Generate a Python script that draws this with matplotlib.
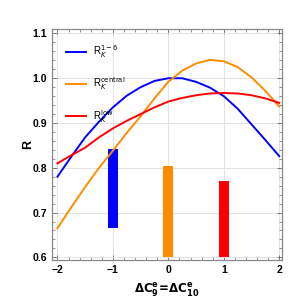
import numpy as np
import matplotlib.pyplot as plt
from matplotlib.ticker import MultipleLocator

plt.rcParams['font.family'] = ['Liberation Sans', 'DejaVu Sans']

# curves R(x)
x_vals = [-2, -1.75, -1.5, -1.25, -1, -0.75, -0.5, -0.25, 0,
          0.25, 0.5, 0.75, 1, 1.25, 1.5, 1.75, 2]
r_16 = [0.780, 0.825, 0.868, 0.903, 0.935, 0.961, 0.980, 0.994, 1.000,
        1.000, 0.992, 0.979, 0.960, 0.932, 0.897, 0.862, 0.826]
r_central = [0.665, 0.712, 0.757, 0.800, 0.838, 0.878, 0.915, 0.955, 0.992,
             1.017, 1.033, 1.041, 1.038, 1.025, 1.002, 0.972, 0.937]
r_low = [0.810, 0.828, 0.845, 0.868, 0.888, 0.905, 0.920, 0.935, 0.948,
         0.956, 0.962, 0.966, 0.967, 0.966, 0.962, 0.955, 0.945]

# measured ranges
bar_x = [-1, 0, 1]
bar_lo = [0.665, 0.600, 0.600]
bar_hi = [0.843, 0.805, 0.770]

colors = ['#0000ff', '#ff8c00', '#ff0000']
labels = [r'R$_K^{1-6}$', r'R$_K^{\rm central}$', r'R$_K^{\rm low}$']

fig = plt.figure(figsize=(3.0, 3.02), dpi=100)
ax = fig.add_axes([0.173, 0.139, 0.767, 0.765])

for ys, c, lab in zip([r_16, r_central, r_low], colors, labels):
    ax.plot(x_vals, ys, color=c, lw=1.4, label=lab, zorder=3,
            solid_joinstyle='round')

for xb, lo, hi, c in zip(bar_x, bar_lo, bar_hi, colors):
    ax.bar(xb, hi - lo, bottom=lo, width=0.18, color=c, zorder=2)

ax.set_xlim(-2.1, 2.05)
ax.set_ylim(0.594, 1.11)
ax.xaxis.set_major_locator(MultipleLocator(1))
ax.xaxis.set_minor_locator(MultipleLocator(0.2))
ax.yaxis.set_major_locator(MultipleLocator(0.1))
ax.yaxis.set_minor_locator(MultipleLocator(0.02))
ax.xaxis.set_major_formatter(plt.FuncFormatter(lambda v, p: f'{v:.0f}'.replace('-', '\u2212')))
ax.yaxis.set_major_formatter(plt.FuncFormatter(lambda v, p: f'{v:.1f}'))
ax.grid(True, which='major', color='#e3e3e3', lw=0.7, zorder=0)
ax.tick_params(which='both', direction='in', top=True, right=True,
               color='#666666', labelsize=7.5)
ax.tick_params(which='major', length=3.5, width=0.6)
ax.tick_params(which='minor', length=2, width=0.5)
for lab in ax.get_xticklabels() + ax.get_yticklabels():
    lab.set_fontweight('bold')
for s in ax.spines.values():
    s.set_color('#888888')
    s.set_linewidth(0.9)

ax.set_xlabel(r'$\mathbf{\Delta C_9^e\!=\!\Delta C_{10}^e}$', fontsize=8.5, labelpad=5)
ax.set_ylabel('R', fontsize=9, fontweight='bold', labelpad=-1)

ax.legend(loc='upper left', frameon=False, fontsize=7, handlelength=2.0,
          labelspacing=1.6, borderaxespad=0.6, bbox_to_anchor=(0.02, 0.98))

fig.savefig('out.png', dpi=100)
